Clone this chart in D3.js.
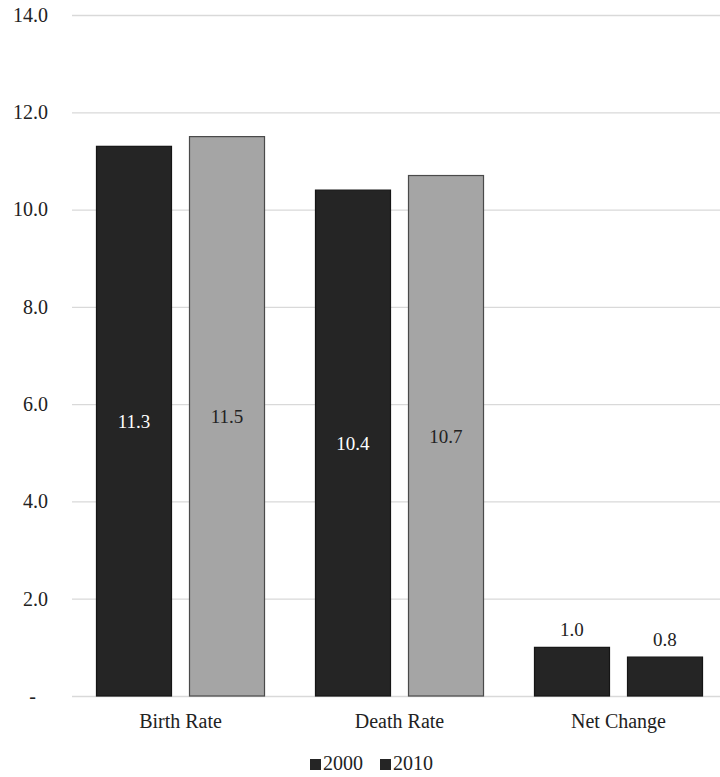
<!DOCTYPE html>
<html>
<head>
<meta charset="utf-8">
<script src="https://cdn.jsdelivr.net/npm/d3@7/dist/d3.min.js"></script>
<style>
  html, body { margin: 0; padding: 0; background: #fff; }
  svg { display: block; }
  svg text { font-family: "Liberation Serif", "Times New Roman", serif; }
</style>
</head>
<body>
<svg id="chart" width="720" height="777"></svg>
<script>
// Rates per 1,000 population
const categories = ["Birth Rate", "Death Rate", "Net Change"];
const seriesNames = ["2000", "2010"];
const values2000 = [11.3, 10.4, 1.0];
const values2010 = [11.5, 10.7, 0.8];
const yTicks = [0, 2, 4, 6, 8, 10, 12, 14];

const FONT = "'Liberation Serif', 'Times New Roman', serif";
const svg = d3.select("#chart").attr("font-family", FONT);
const width = 720, height = 777;

const x = d3.scaleBand().domain(categories).range([71, 728]).padding(0);
const xs = d3.scaleBand().domain(seriesNames).range([0, x.bandwidth()])
  .paddingInner(0.1935).paddingOuter(0.274);
const y = d3.scaleLinear().domain([0, 14]).range([696, 15]);

const dark = "#252525", light = "#a5a5a5";
function fillFor(series, cat) {
  if (series === "2000") return dark;
  return cat === "Net Change" ? dark : light;
}

// gridlines
svg.append("g").selectAll("line").data(yTicks).join("line")
  .attr("x1", 72).attr("x2", width)
  .attr("y1", d => y(d) + 0.5).attr("y2", d => y(d) + 0.5)
  .attr("stroke", "#d9d9d9").attr("stroke-width", 1.3);

// y axis labels
const yAxis = d3.axisLeft(y).tickValues(yTicks).tickSize(0)
  .tickFormat(d => d === 0 ? "-" : d3.format(".1f")(d));
const ya = svg.append("g").attr("transform", "translate(48,0)").call(yAxis);
ya.attr("font-family", FONT);
ya.select(".domain").remove();
ya.selectAll("text").attr("font-size", 20).attr("fill", "#222")
  .attr("x", d => d === 0 ? -12 : 0);

// bars
const rows = [];
categories.forEach((c, i) => {
  rows.push({ cat: c, series: "2000", v: values2000[i] });
  rows.push({ cat: c, series: "2010", v: values2010[i] });
});

const bars = svg.append("g").selectAll("g").data(rows).join("g")
  .attr("transform", d => `translate(${x(d.cat) + xs(d.series)},0)`);

bars.append("rect")
  .attr("x", 0).attr("width", xs.bandwidth())
  .attr("y", d => y(d.v)).attr("height", d => y(0) - y(d.v))
  .attr("fill", d => fillFor(d.series, d.cat))
  .attr("stroke", d => fillFor(d.series, d.cat) === light ? "#4a4a4a" : "#151515")
  .attr("stroke-width", 1.2);

// value labels: inside large bars, above small ones
bars.append("text")
  .attr("x", xs.bandwidth() / 2)
  .attr("y", d => d.v > 3 ? (y(d.v) + y(0)) / 2 + 7 : y(d.v) - 11)
  .attr("text-anchor", "middle")
  .attr("font-size", 19)
  .attr("fill", d => d.v > 3 && fillFor(d.series, d.cat) === dark ? "#fff" : "#222")
  .text(d => d3.format(".1f")(d.v));

// category axis
const xa = svg.append("g").attr("transform", `translate(0,${y(0)})`)
  .call(d3.axisBottom(x).tickSize(0).tickPadding(18));
xa.attr("font-family", FONT);
xa.select(".domain").remove();
xa.selectAll("text").attr("font-size", 20).attr("fill", "#222");

// legend
const legend = svg.append("g").attr("transform", "translate(310,770)");
const items = legend.selectAll("g").data(seriesNames).join("g")
  .attr("transform", (d, i) => `translate(${i * 70},0)`);
items.append("rect").attr("x", 0).attr("y", -11).attr("width", 11).attr("height", 11).attr("fill", dark);
items.append("text").attr("x", 13).attr("y", 0).attr("font-size", 20).attr("fill", "#222").text(d => d);
</script>
</body>
</html>
